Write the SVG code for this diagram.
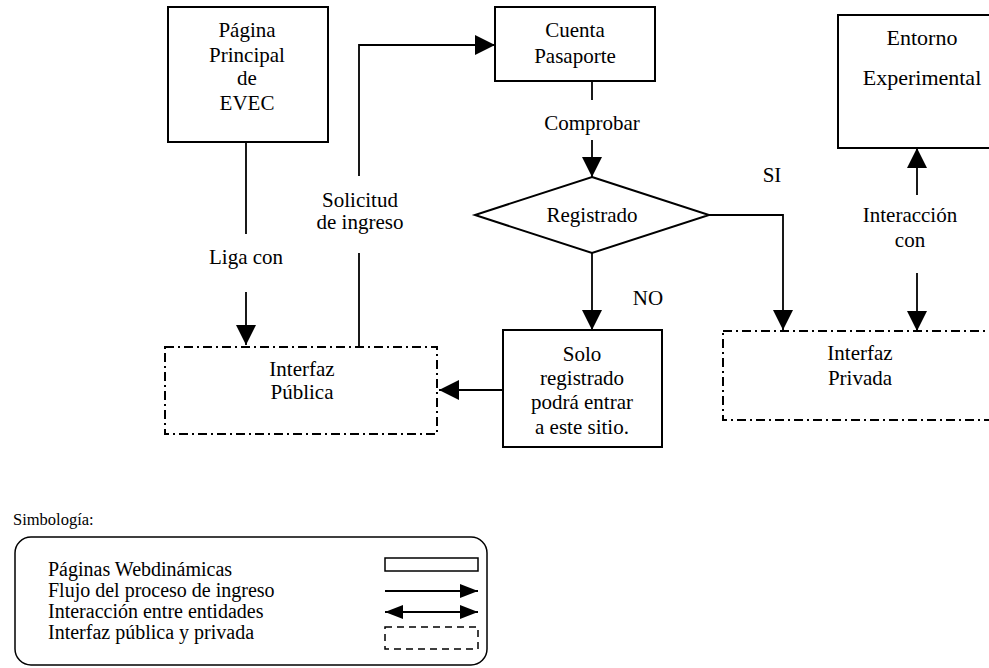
<svg xmlns="http://www.w3.org/2000/svg" width="989" height="668" viewBox="0 0 989 668" font-family="'Liberation Serif', 'Times New Roman', serif">
<defs>
<style>
text{font-family:"Liberation Serif","Times New Roman",serif;fill:#000}
.t{font-size:21px;text-anchor:middle}
.l{font-size:20px}
.box{fill:#fff;stroke:#000;stroke-width:2}
.dd{fill:none;stroke:#000;stroke-width:2;stroke-dasharray:9 4 2 4}
.ln{fill:none;stroke:#000;stroke-width:1.8}
</style>
<marker id="ah" markerUnits="userSpaceOnUse" markerWidth="20" markerHeight="20" refX="20" refY="10" orient="auto">
<path d="M0,0 L20,10 L0,20 Z" fill="#000"/>
</marker>
<marker id="ahs" markerUnits="userSpaceOnUse" markerWidth="18" markerHeight="14" refX="18" refY="7" orient="auto">
<path d="M0,0 L18,7 L0,14 Z" fill="#000"/>
</marker>
<marker id="ahs0" markerUnits="userSpaceOnUse" markerWidth="18" markerHeight="14" refX="0" refY="7" orient="auto">
<path d="M18,0 L0,7 L18,14 Z" fill="#000"/>
</marker>
</defs>
<rect width="989" height="668" fill="#fff"/>

<g id="connectors">
<line class="ln" x1="246" y1="142" x2="246" y2="234"/>
<line class="ln" x1="246" y1="292" x2="246" y2="345" marker-end="url(#ah)"/>
<polyline class="ln" points="359,347 359,253"/>
<polyline class="ln" points="359,176 359,45 495,45" marker-end="url(#ah)"/>
<line class="ln" x1="592" y1="81" x2="592" y2="100"/>
<line class="ln" x1="592" y1="140" x2="592" y2="177" marker-end="url(#ah)"/>
<line class="ln" x1="592" y1="253" x2="592" y2="330" marker-end="url(#ah)"/>
<polyline class="ln" points="709,215 783,215 783,330" marker-end="url(#ah)"/>
<line class="ln" x1="503" y1="390" x2="439" y2="390" marker-end="url(#ah)"/>
<line class="ln" x1="917" y1="195" x2="917" y2="148" marker-end="url(#ah)"/>
<line class="ln" x1="917" y1="273" x2="917" y2="331" marker-end="url(#ah)"/>
<text class="t" x="246" y="264">Liga con</text>
<text class="t" x="360" y="207">Solicitud</text>
<text class="t" x="360" y="229">de ingreso</text>
<text class="t" x="592" y="130">Comprobar</text>
<text class="t" x="648" y="305">NO</text>
<text class="t" x="772" y="182">SI</text>
<text class="t" x="910" y="222">Interacción</text>
<text class="t" x="910" y="247">con</text>
</g>

<g id="pagina">
<rect class="box" x="168" y="7" width="160" height="135"/>
<text class="t" x="247" y="37">Página</text>
<text class="t" x="247" y="62">Principal</text>
<text class="t" x="247" y="85">de</text>
<text class="t" x="247" y="110">EVEC</text>
</g>

<g id="cuenta">
<rect class="box" x="495" y="7" width="160" height="74"/>
<text class="t" x="575" y="37">Cuenta</text>
<text class="t" x="575" y="63">Pasaporte</text>
</g>

<g id="registrado">
<polygon class="box" points="592,177 709,215 592,253 475,215"/>
<text class="t" x="592" y="222">Registrado</text>
</g>

<g id="solo">
<rect class="box" x="503" y="330" width="159" height="117"/>
<text class="t" x="582" y="361">Solo</text>
<text class="t" x="582" y="385">registrado</text>
<text class="t" x="582" y="409">podrá entrar</text>
<text class="t" x="582" y="434">a este sitio.</text>
</g>

<g id="publica">
<rect class="dd" x="165" y="347" width="272" height="87"/>
<text class="t" x="302" y="376">Interfaz</text>
<text class="t" x="302" y="399">Pública</text>
</g>

<g id="privada">
<rect class="dd" x="723" y="331" width="290" height="89"/>
<text class="t" x="860" y="360">Interfaz</text>
<text class="t" x="860" y="385">Privada</text>
</g>

<g id="entorno">
<rect class="box" x="838" y="15" width="170" height="133"/>
<text class="t" x="922" y="45" style="font-size:22px">Entorno</text>
<text class="t" x="922" y="85" style="font-size:22px">Experimental</text>
</g>

<g id="legend">
<text class="l" x="13" y="525" style="font-size:16.5px">Simbología:</text>
<rect x="15" y="537" width="472" height="128" rx="16" ry="16" fill="none" stroke="#000" stroke-width="1.5"/>
<text class="l" x="48" y="576">Páginas Webdinámicas</text>
<text class="l" x="48" y="597">Flujo del proceso de ingreso</text>
<text class="l" x="48" y="618">Interacción  entre entidades</text>
<text class="l" x="48" y="639">Interfaz pública y privada</text>
<rect x="385" y="558" width="93" height="13" fill="none" stroke="#000" stroke-width="1.5"/>
<line class="ln" x1="385" y1="591" x2="478" y2="591" marker-end="url(#ahs)"/>
<line class="ln" x1="385" y1="612" x2="478" y2="612" marker-start="url(#ahs0)" marker-end="url(#ahs)"/>
<rect x="385" y="627" width="93" height="22" fill="none" stroke="#000" stroke-width="1.5" stroke-dasharray="7 5"/>
</g>
</svg>
